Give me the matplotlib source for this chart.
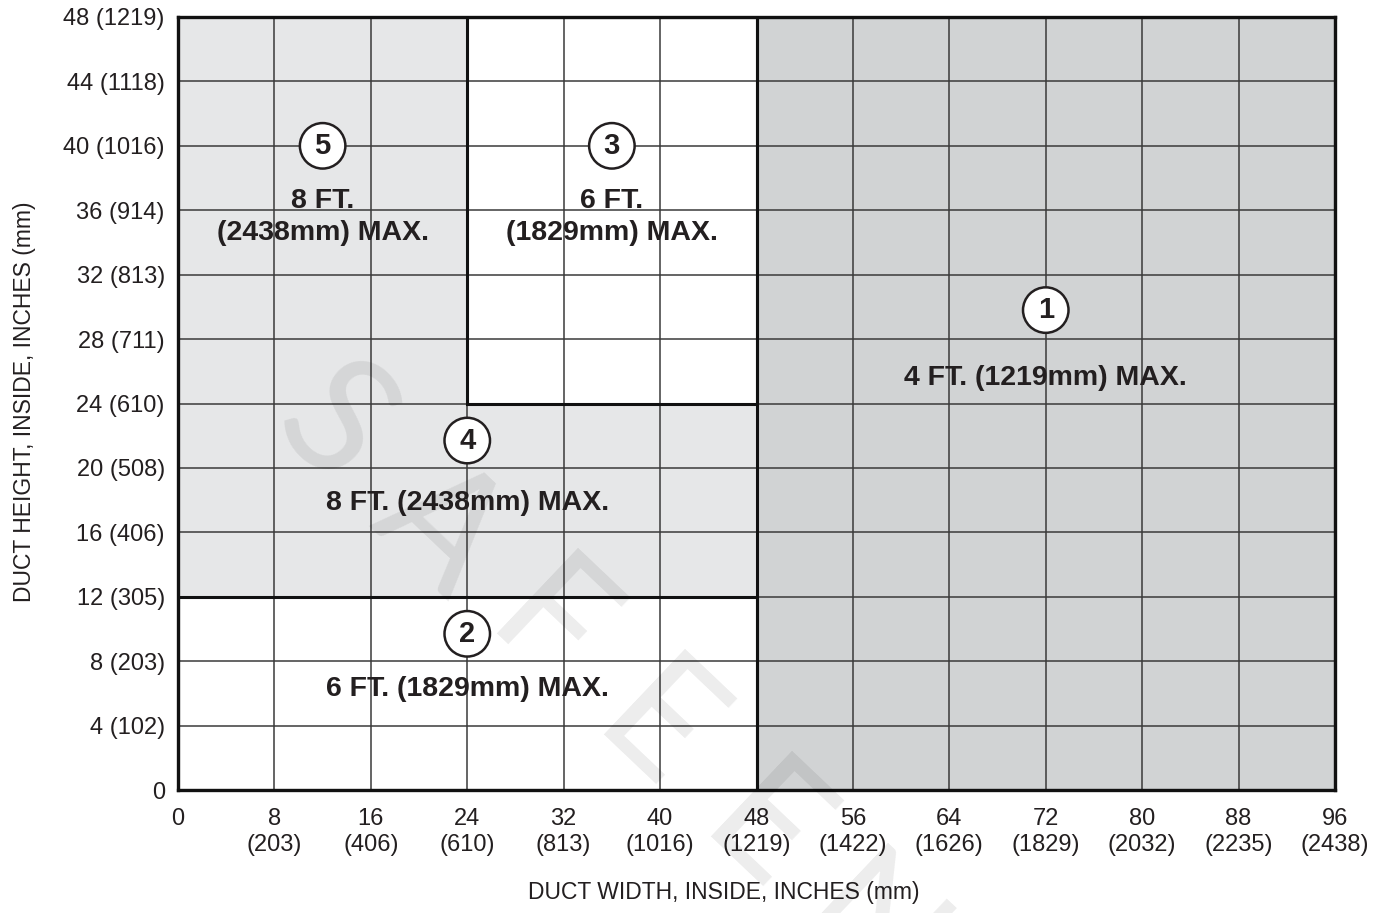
#!/usr/bin/env python3
import matplotlib
matplotlib.use('Agg')
import matplotlib.pyplot as plt
from matplotlib.patches import Rectangle

# duct width / height ticks, inches with mm equivalents
x_in = [0, 8, 16, 24, 32, 40, 48, 56, 64, 72, 80, 88, 96]
x_mm = [None, 203, 406, 610, 813, 1016, 1219, 1422, 1626, 1829, 2032, 2235, 2438]
y_in = [0, 4, 8, 12, 16, 20, 24, 28, 32, 36, 40, 44, 48]
y_mm = [None, 102, 203, 305, 406, 508, 610, 711, 813, 914, 1016, 1118, 1219]

# zones: number, (x0, x1, y0, y1) in inches, max hanger spacing text
zone_ids = [1, 2, 3, 4, 5]
zone_bounds = [(48, 96, 0, 48), (0, 48, 0, 12), (24, 48, 24, 48),
               (0, 48, 12, 24), (0, 24, 24, 48)]
zone_text = ["4 FT. (1219mm) MAX.", "6 FT. (1829mm) MAX.",
             "6 FT.\n(1829mm) MAX.", "8 FT. (2438mm) MAX.",
             "8 FT.\n(2438mm) MAX."]
watermark = "SAFEEN"

# where the circled number and the text sit in each zone
zone_colors = ['#d1d3d4', 'white', 'white', '#e6e7e8', '#e6e7e8']
zone_outlined = [True, True, True, False, False]
num_pos = [(72, 29.8), (24, 9.7), (36, 40.0), (24, 21.7), (12, 40.0)]
text_pos = [(72, 25.6), (24, 6.3), (36, 35.6), (24, 17.8), (12, 35.6)]

plt.rcParams['font.family'] = ['Liberation Sans', 'DejaVu Sans']
INK = '#231f20'

fig = plt.figure(figsize=(13.83, 9.13), dpi=100)
ax = fig.add_axes([0.1287, 0.1347, 0.8366, 0.8467])

for (x0, x1, y0, y1), c in zip(zone_bounds, zone_colors):
    ax.add_patch(Rectangle((x0, y0), x1 - x0, y1 - y0, facecolor=c,
                           edgecolor='none', zorder=0.5))
for (x0, x1, y0, y1), o in zip(zone_bounds, zone_outlined):
    if o:
        ax.add_patch(Rectangle((x0, y0), x1 - x0, y1 - y0, fill=False,
                               edgecolor='#111111', lw=2.2, zorder=3))

ax.set_xlim(x_in[0], x_in[-1])
ax.set_ylim(y_in[0], y_in[-1])
ax.set_xticks(x_in)
ax.set_yticks(y_in)
ax.set_xticklabels([str(a) if b is None else "%d\n(%d)" % (a, b)
                    for a, b in zip(x_in, x_mm)],
                   fontsize=17, linespacing=1.25)
ax.set_yticklabels([str(a) if b is None else "%d (%d)" % (a, b)
                    for a, b in zip(y_in, y_mm)], fontsize=17)
ax.tick_params(axis='both', length=0, colors=INK)
ax.tick_params(axis='x', pad=13)
ax.tick_params(axis='y', pad=9.5)
ax.set_axisbelow('line')
ax.grid(True, color='#3a3a3a', lw=1.1)
for sp in ax.spines.values():
    sp.set_linewidth(2.4)
    sp.set_color('#111111')
    sp.set_zorder(3.5)

for n, (nx, ny), t, (tx, ty) in zip(zone_ids, num_pos, zone_text, text_pos):
    ax.text(nx, ny, str(n), ha='center', va='center', fontsize=21,
            fontweight='bold', color=INK, zorder=5,
            bbox=dict(boxstyle='circle,pad=0.3', facecolor='white',
                      edgecolor=INK, lw=1.8))
    ax.text(tx, ty, t, ha='center', va='center', fontsize=20.5,
            fontweight='bold', color=INK, zorder=5, linespacing=1.3)

fig.text(0.523, 0.022, "DUCT WIDTH, INSIDE, INCHES (mm)", ha='center',
         va='center', fontsize=16.5, color=INK)
fig.text(0.018, 0.56, "DUCT HEIGHT, INSIDE, INCHES (mm)", ha='center',
         va='center', fontsize=16.5, color=INK, rotation=90)

# faint diagonal watermark, one letter at a time along the diagonal
for i, ch in enumerate(watermark):
    fig.text(0.2408 + 0.0774 * i, 0.5323 - 0.1117 * i, ch, ha='center',
             va='center', fontsize=118, color='black', alpha=0.075,
             rotation=-43.5, rotation_mode='anchor',
             family=['Lato', 'DejaVu Sans'], fontweight='normal', zorder=10)

fig.savefig('out.png', dpi=100)
